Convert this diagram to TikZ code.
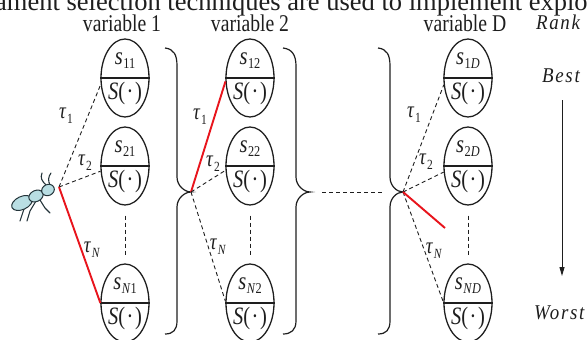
\documentclass[tikz,border=0pt]{standalone}
\usepackage{fontspec}
\setmainfont{Liberation Serif}
\newfontfamily\narrowfont[FakeStretch=0.82]{Liberation Serif}
\newfontfamily\rankfont[FakeStretch=0.9,LetterSpace=8]{Liberation Serif}
\usetikzlibrary{shapes.geometric,arrows.meta}

% cell value s_{ij}, pheromone tau_i and cost S(.)
\newcommand{\cellsub}[1]{\textit{s}\kern0.5pt\raisebox{-4pt}{\fontsize{15}{15}\selectfont #1}}
\newcommand{\tausub}[1]{\textit{τ}\kern0.5pt\raisebox{-5pt}{\fontsize{14}{14}\selectfont #1}}
\newcommand{\scost}{\textit{S}(\kern1.5pt·\kern1.5pt)}

\definecolor{inkc}{HTML}{1E1E1E}
\definecolor{trailred}{HTML}{E8141C}
\definecolor{antbody}{HTML}{B9DEE3}
\definecolor{antline}{HTML}{24343A}

\tikzset{
  cell/.style={draw=inkc, line width=1.3pt, ellipse, minimum width=48pt,
               minimum height=78pt, inner sep=0pt},
  cellline/.style={draw=inkc, line width=1.3pt},
  cellval/.style={font=\narrowfont\fontsize{25}{25}\selectfont, inner sep=0pt, text=inkc},
  title/.style={font=\narrowfont\fontsize{24}{24}\selectfont, inner sep=0pt, text=inkc},
  ranklabel/.style={font=\rankfont\itshape\fontsize{21}{21}\selectfont, inner sep=0pt, text=inkc},
  taulabel/.style={font=\narrowfont\fontsize{23}{23}\selectfont, inner sep=0pt, text=inkc},
  trail/.style={draw=inkc, line width=0.9pt, dash pattern=on 4pt off 3pt},
  besttrail/.style={draw=trailred, line width=1.9pt},
  bracket/.style={draw=inkc, line width=1.2pt},
  antpart/.style={draw=antline, fill=antbody, line width=1pt},
  antleg/.style={draw=antline, line width=1.1pt, line cap=round},
}

\begin{document}
\begin{tikzpicture}[x=1pt,y=-1pt]
\useasboundingbox (0,0) rectangle (587,340);
\clip (0,0) rectangle (587,340);

% running text of the page above the figure
\node[anchor=base west, inner sep=0pt, font=\fontsize{26.5}{26.5}\selectfont, text=inkc]
  (caption) at (-5,10.5) {ament selection techniques are used to implement explo};

% column titles
\node[title] (t1) at (122,23) {variable 1};
\node[title] (t2) at (250,23) {variable 2};
\node[title] (tD) at (465,23) {variable D};

% candidate cells of every variable
\foreach \k/\cx/\sub in {1/125/1, 2/250/2, D/468/{\textit{D}}} {
  \node[cell] (a\k) at (\cx,78) {};
  \node[cell] (b\k) at (\cx,166) {};
  \node[cell] (n\k) at (\cx,303) {};
  \foreach \r in {a,b,n}
    \draw[cellline] (\r\k.west) -- (\r\k.east);
  \node[cellval] (a\k s) at ([yshift=17pt]a\k.center) {\cellsub{1\sub}};
  \node[cellval] (b\k s) at ([yshift=17pt]b\k.center) {\cellsub{2\sub}};
  \node[cellval] (n\k s) at ([yshift=17pt]n\k.center) {\cellsub{\textit{N}\sub}};
  \node[cellval] (a\k c) at ([yshift=-15pt]a\k.center) {\scost};
  \node[cellval] (b\k c) at ([yshift=-15pt]b\k.center) {\scost};
  \node[cellval] (n\k c) at ([yshift=-15pt]n\k.center) {\scost};
  \draw[trail] ([yshift=-10pt]b\k.south) -- ([yshift=8pt]n\k.north);
}

% braces closing each variable; their tips are the next decision points
\foreach \bx/\bv/\bc/\nm in {165/177/191/1, 283/296/310/2, 378/390/403/3} {
  \coordinate (tip\nm) at (\bc,192);
  \draw[bracket] (\bx,48) .. controls ({\bx+9},49) and (\bv,55) .. (\bv,66)
    -- (\bv,177) .. controls (\bv,186) and ({\bc-6},192) .. (tip\nm)
    .. controls ({\bc-6},192) and (\bv,198) .. (\bv,207)
    -- (\bv,321) .. controls (\bv,330) and ({\bx+8},334) .. (\bx,334);
}

% decision points
\coordinate (j1) at (59,187);
\coordinate (redD) at (445,228);

% variable 1
\draw[trail] (j1) -- (a1.195);
\draw[trail] (j1) -- (b1.192);
\draw[besttrail] (j1) -- (n1.west);
\node[taulabel] (tau11) at (66,116) {\tausub{1}};
\node[taulabel] (tau21) at (85,163) {\tausub{2}};
\node[taulabel] (tauN1) at (92,250) {\tausub{\textit{N}}};

% variable 2
\draw[besttrail] (tip1) -- (a2.188);
\draw[trail] (tip1) -- (b2.190);
\draw[trail] (tip1) -- (n2.176);
\node[taulabel] (tau12) at (200,117) {\tausub{1}};
\node[taulabel] (tau22) at (213,164) {\tausub{2}};
\node[taulabel] (tauN2) at (218,247) {\tausub{\textit{N}}};

% gap standing for the variables in between
\draw[trail] ([xshift=12pt]tip2) -- ([xshift=-21pt]tip3);

% variable D
\draw[trail] (tip3) -- (aD.196);
\draw[trail] (tip3) -- (bD.194);
\draw[trail] (tip3) -- (nD.178);
\draw[besttrail] (tip3) -- (redD);
\node[taulabel] (tau1D) at (414,115) {\tausub{1}};
\node[taulabel] (tau2D) at (426,162) {\tausub{2}};
\node[taulabel] (tauND) at (434,251) {\tausub{\textit{N}}};

% ranking scale
\node[ranklabel] (rank) at (558,22) {Rank};
\node[ranklabel] (best) at (561,76) {Best};
\node[ranklabel, anchor=west] (worst) at (534,313) {Worst};
\coordinate (rtop) at (562,100);
\coordinate (rbot) at (562,276);
\draw[inkc, line width=1pt, -{Triangle[length=9pt,width=5pt]}] (rtop) -- (rbot);

% the ant
\draw[antleg] (32,200) -- (24,209) -- (20,221);
\draw[antleg] (36,201) -- (30,211) -- (27,221);
\draw[antleg] (40,200) -- (45,208) -- (50,213);
\draw[antleg] (46,185) .. controls (42,181) and (40,178) .. (42,173);
\draw[antleg] (50,185) .. controls (48,181) and (48,177) .. (51,173);
\draw[antpart] (22,203) ellipse [x radius=11, y radius=6.5, rotate=25];
\draw[antpart] (36,196) ellipse [x radius=7.5, y radius=5.5, rotate=25];
\draw[antpart] (48,190) ellipse [x radius=6.5, y radius=5.5, rotate=25];
\end{tikzpicture}
\end{document}
